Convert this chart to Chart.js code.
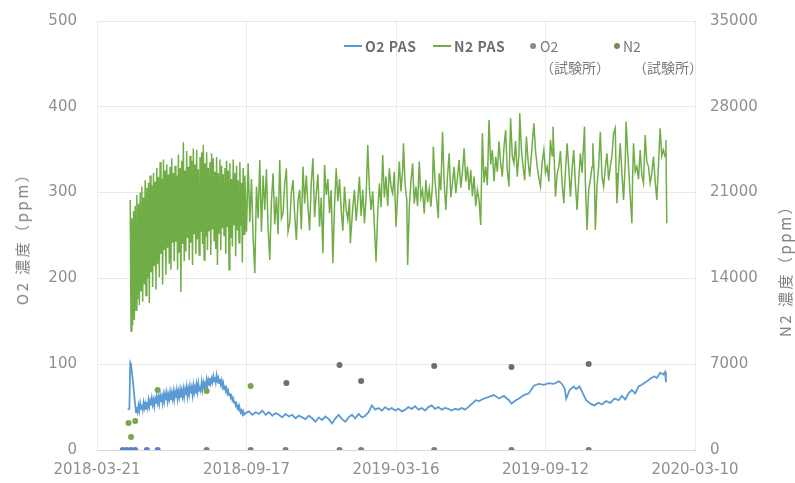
<!DOCTYPE html>
<html><head><meta charset="utf-8">
<script src="https://cdn.jsdelivr.net/npm/chart.js@4.4.1/dist/chart.umd.min.js"></script>
<style>
html,body{margin:0;padding:0;background:#fff;}
#wrap{position:relative;width:795px;height:483px;overflow:hidden;background:#fff;}
canvas{position:absolute;left:0;top:0;}
.t{position:absolute;white-space:nowrap;font-family:"Noto Sans CJK JP","Noto Sans",sans-serif;line-height:18px;}
.yt{font-size:15px;color:#7f7f7f;letter-spacing:2.5px;transform:translate(-50%,-50%) rotate(-90deg);}
.sw{position:absolute;height:2px;width:18px;}
.dot{position:absolute;width:6px;height:6px;border-radius:50%;}
.lg{font-size:14px;color:#6e6e6e;font-weight:bold;letter-spacing:0.5px;}
.lg2{font-size:14px;color:#7a7a7a;}
</style></head>
<body><div id="wrap">
<canvas id="c" width="795" height="483"></canvas>
<div class="t yt" style="left:22px;top:235px">O2 濃度（ppm）</div>
<div class="t yt" style="left:785px;top:267px">N2 濃度（ppm）</div>
<div class="sw" style="left:344px;top:45px;background:#5b9bd5"></div>
<div class="t lg" style="left:365px;top:37px">O2 PAS</div>
<div class="sw" style="left:433px;top:45px;background:#70ad47"></div>
<div class="t lg" style="left:454px;top:37px">N2 PAS</div>
<div class="dot" style="left:530px;top:43px;background:#8a8a8a"></div>
<div class="t lg2" style="left:540px;top:37px">O2</div>
<div class="t lg2" style="left:540px;top:58px">（試験所）</div>
<div class="dot" style="left:614px;top:43px;background:#7c8660"></div>
<div class="t lg2" style="left:623px;top:37px">N2</div>
<div class="t lg2" style="left:633px;top:58px">（試験所）</div>
</div>
<script>
// ---- data (x = days since 2018-03-21) ----
// O2 PAS (left axis, ppm)
const o2HeadDays = [37,39,40,41,43,45];
const o2HeadVals = [47,48,102,100,82,62];
const o2DailyStart = 47; // daily readings from day 47 to day 177
const o2DailyVals = [44,50,45,52,46,54,48,53,47,55,49,54,48,56,50,58,51,57,52,60,53,58,51,59,54,62,55,61,54,63,56,62,55,64,57,65,58,66,57,64,59,67,58,66,60,68,59,67,61,69,60,68,62,70,61,69,63,71,62,70,64,73,63,71,65,74,66,72,64,75,67,73,66,76,68,77,69,75,70,79,71,78,72,80,74,82,75,81,76,84,78,83,79,86,80,85,79,87,81,84,78,83,77,81,74,78,71,75,69,72,66,69,64,66,61,63,58,60,55,57,52,54,49,51,46,48,44,46,42,45,41];
const o2LateDays = [179,183,187,191,195,199,203,207,211,215,219,223,227,231,235,239,243,247,251,255,259,263,267,271,275,279,283,287,291,295,299,303,307,311,315,319,323,327,331,335,339,343,347,351,355,359,363,367,371,375,379,383,387,391,395,399,403,407,411,415,419,423,427,431,435,439,443,447,
456,460,466,472,478,484,490,496,499,503,508,514,520,526,532,538,544,550,556,559,563,565,569,574,577,581,586,589,594,599,604,608,613,618,623,628,632,636,640,644,648,652,656,662,666,671,674,678,682,684,685];
const o2LateVals = [43,45,41,44,42,46,41,44,40,43,41,38,42,39,41,37,40,38,36,40,37,33,38,35,39,36,31,37,41,36,33,38,41,37,42,38,40,44,52,47,49,46,50,47,49,46,48,45,47,50,48,51,47,49,46,50,52,48,50,47,49,48,46,48,47,49,47,50,
58,57,60,62,64,60,63,58,54,57,60,64,66,75,77,76,78,77,80,78,72,60,70,74,71,74,64,58,54,52,55,53,57,55,60,58,63,59,66,70,66,74,76,80,83,86,84,90,88,91,79];

// N2 PAS (right axis, ppm)
const n2DailyStart = 40; // daily readings from day 40 to day 178
const n2DailyVals = [20400,9700,18900,10200,19500,10600,19900,11400,20800,12300,20100,11800,21000,13000,21500,12100,20600,13500,22000,12600,21400,14000,21800,12000,22400,14500,21600,13300,22600,15000,21900,13100,23000,15200,22300,14100,23500,16000,22100,13500,23700,16300,22800,14300,23300,16500,22500,15200,23100,14700,23800,16900,22600,15400,23200,17000,22400,14700,24100,16100,23000,12900,23600,16800,25100,15400,22800,16200,24400,17300,23100,15500,24000,16900,23600,15100,24600,17600,23300,16000,24500,17200,22900,15900,23900,17800,24300,16800,24900,15500,23400,17400,24300,16300,23000,17900,23500,15900,24200,18000,23800,17100,22700,16400,23900,15100,22600,17700,23700,16300,23200,18100,22500,17500,23000,16000,23600,18200,22800,14700,23400,17300,22100,16600,23700,18400,22600,15800,23200,17900,22000,16900,23500,18300,21800,15300,23000,17600,22400];
const n2LateDays = [180,182,184,186,188,190,192,194,196,198,200,202,204,206,208,210,212,214,216,218,220,222,224,226,228,230,232,234,236,238,240,242,244,246,248,250,252,254,256,258,260,262,264,266,268,270,272,274,276,278,280,282,284,286,288,290,292,294,296,298,300,302,304,305,308,310,312,314,316,318,320,322,324,326,328,330,332,334,336,338,340,342,344,346,348,350,352,354,356,358,360,362,364,366,368,369,371,373,374,376,378,380,382,384,386,388,390,392,394,396,398,400,402,404,405,407,409,411,412,414,416,418,420,422,424,426,428,430,432,434,436,438,440,442,444,446,448,450,452,454,456,458,460,462,464,466,468,470,472,474,476,478,480,482,484,486,488,490,492,494,496,498,500,502,504,506,508,509,511,513,515,517,519,521,523,526,528,530,532,534,536,538,540,542,544,546,548,549,551,552,554,556,558,560,562,564,566,568,570,572,574,576,578,580,582,584,587,588,590,592,594,596,597,599,600,602,604,606,608,610,612,614,616,618,620,622,624,625,626,628,630,632,634,636,637,639,640,642,644,645,646,648,650,652,654,656,658,660,662,664,666,668,670,672,674,676,678,680,682,684,685,686];
const n2LateVals = [17800,23390,18600,22100,17300,14420,21500,18900,23660,17800,22400,19580,22900,18100,15500,20300,22580,18400,20670,17600,23660,18900,19310,21700,22990,17800,18500,21000,22030,19200,17140,20300,21220,18000,23120,20100,22400,19850,17900,21800,23800,19000,20950,22500,18220,20600,16050,23260,20800,22100,19310,21200,15230,19900,22990,20300,22100,19580,17900,21490,19600,18770,20500,16870,19800,21220,18700,20300,22300,19100,21220,18500,20600,24890,21300,19580,21100,18220,15370,19400,21760,19800,24070,20600,22300,19900,22990,21500,20950,22700,18220,20900,23530,21100,22800,25030,21600,20400,15100,19800,21900,23390,20100,21490,19900,23530,20600,21220,19300,22030,20200,21300,19850,21700,24750,21900,20400,18900,22580,21200,25970,21800,19580,22300,24210,20600,21760,23100,20950,22200,23660,21400,22700,24620,21900,23120,21200,22850,20700,22300,19900,21220,20400,18360,25840,21800,23120,21600,26930,23300,24480,21900,23930,22700,25160,23400,22300,24700,26110,22800,21490,27070,24000,23390,25200,22300,24100,27470,24500,23120,22000,25570,23600,22300,24100,26660,24400,23120,22200,21490,23500,24480,22600,23120,21900,25300,24000,26380,22800,20670,22500,23120,24400,21760,20130,22700,25030,23000,20670,22900,24480,21700,19580,22000,24210,22600,26380,21900,17950,21200,22030,23100,25030,21800,17950,21500,23120,25970,22300,21490,23000,24210,22000,23120,24000,25840,26250,22600,20130,22800,25030,22600,20400,23400,26790,24200,23120,20700,18500,22600,25030,22700,23120,22100,24480,22400,21760,25700,23500,23120,21760,22600,23930,22000,20400,23200,26250,24000,24480,23930,25300,18500];

// laboratory samples
const labO2Days = [31,36,41,46,60,73,132,185,227,292,318,406,499,592];
const labO2Vals = [0,0,0,0,0,0,0,0,0,0,0,0,0,0];
const labN2Days = [38,41,46,73,132,185,228,292,318,406,499,592];
const labN2Vals = [2200,1060,2370,4900,4810,5220,5470,6940,5630,6850,6770,7020];

const xTicks = [0,180,360,540,720];
const startDate = Date.UTC(2018,2,21);
function fmt(v){const d=new Date(startDate+v*86400000);return d.getUTCFullYear()+'-'+String(d.getUTCMonth()+1).padStart(2,'0')+'-'+String(d.getUTCDate()).padStart(2,'0');}
const zip=(xs,ys)=>xs.map((x,i)=>({x:x,y:ys[i]}));
const daily=(start,vals)=>vals.map((v,i)=>({x:start+i,y:v}));
const o2Data = zip(o2HeadDays,o2HeadVals).concat(daily(o2DailyStart,o2DailyVals), zip(o2LateDays,o2LateVals));
const n2Data = daily(n2DailyStart,n2DailyVals).concat(zip(n2LateDays,n2LateVals));
const tickFont={family:'DejaVu Sans',size:15};
const tickColor='#8f8f8f';

new Chart(document.getElementById('c'),{
  type:'scatter',
  data:{datasets:[
    {label:'O2（試験所）',data:zip(labO2Days,labO2Vals),yAxisID:'y',pointRadius:3,pointBorderWidth:0,
      pointBackgroundColor:c=>(c.raw&&c.raw.x<100)?'#5b7fc8':'#7d7d7d',order:0},
    {label:'N2（試験所）',data:zip(labN2Days,labN2Vals),yAxisID:'y2',pointRadius:3,pointBorderWidth:0,
      pointBackgroundColor:c=>(c.raw&&c.raw.x<190)?'#79a550':'#6f6f66',order:1},
    {label:'O2 PAS',data:o2Data,yAxisID:'y',showLine:true,pointRadius:0,borderColor:'#5b9bd5',borderWidth:1.8,tension:0,order:2},
    {label:'N2 PAS',data:n2Data,yAxisID:'y2',showLine:true,pointRadius:0,borderColor:'#70ad47',borderWidth:1.5,tension:0,order:3}
  ]},
  options:{
    responsive:false,animation:false,devicePixelRatio:1,
    layout:{padding:{left:0,right:0,top:21,bottom:0}},
    plugins:{legend:{display:false},tooltip:{enabled:false}},
    scales:{
      x:{type:'linear',min:0,max:720,
        afterBuildTicks:s=>{s.ticks=xTicks.map(v=>({value:v}));},
        ticks:{callback:v=>fmt(v),color:tickColor,font:tickFont,padding:11,maxRotation:0,autoSkip:false},
        grid:{color:'#ececec',drawTicks:false},border:{color:'#d9d9d9'},
        afterFit:s=>{s.height=33;}},
      y:{position:'left',min:0,max:500,
        ticks:{stepSize:100,color:tickColor,font:tickFont,padding:0},
        grid:{color:'#e9e9e9',drawTicks:true,tickLength:20,tickColor:'rgba(0,0,0,0)'},border:{display:false},
        afterFit:s=>{s.width=97;}},
      y2:{position:'right',min:0,max:35000,
        ticks:{stepSize:7000,color:tickColor,font:tickFont,padding:0,callback:v=>String(v)},
        grid:{display:true,drawOnChartArea:false,color:'rgba(0,0,0,0)',drawTicks:true,tickLength:15,tickColor:'rgba(0,0,0,0)'},border:{display:false},
        afterFit:s=>{s.width=100;}}
    }
  }
});
</script>
</body></html>
